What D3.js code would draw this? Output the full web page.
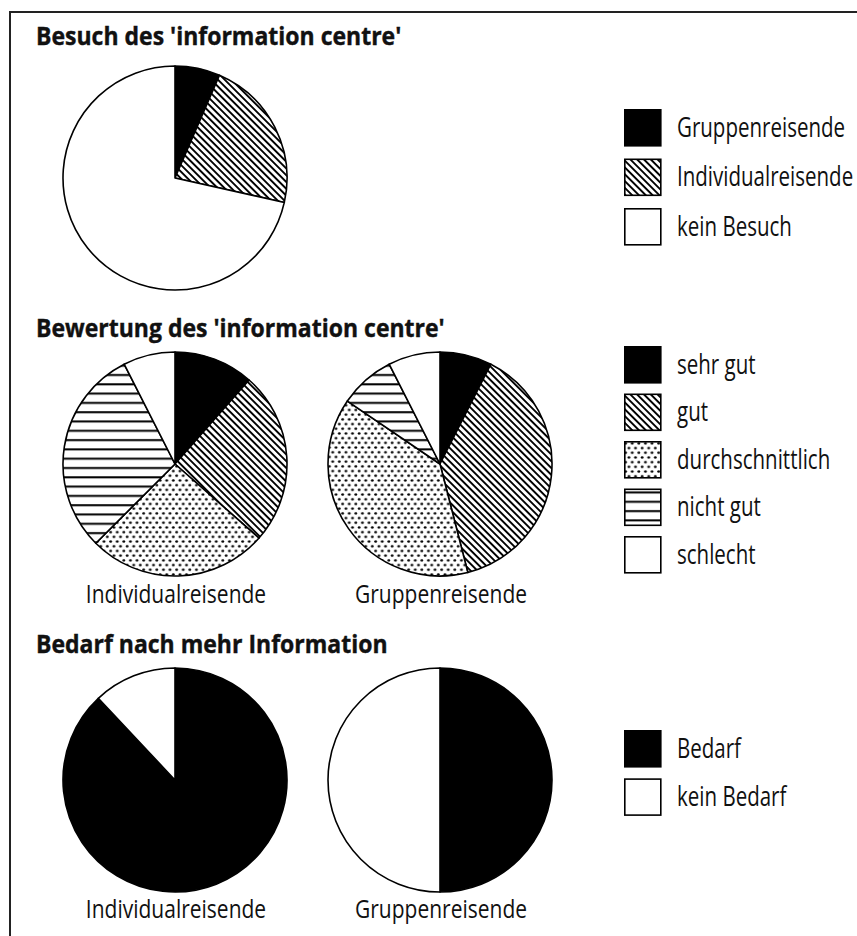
<!DOCTYPE html>
<html>
<head>
<meta charset="utf-8">
<script src="https://cdn.jsdelivr.net/npm/d3@7"></script>
<style>
    html, body { margin: 0; padding: 0; background: #fff; }
    svg { display: block; }
</style>
</head>
<body>
<div id="chart"></div>
<script>
// Werte (Prozent)
const besuchKategorien = ['Gruppenreisende', 'Individualreisende', 'kein Besuch'];
const besuchWerte = [6.5, 22, 71.5];

const bewertungKategorien = ['sehr gut', 'gut', 'durchschnittlich', 'nicht gut', 'schlecht'];
const bewertungIndividual = [11.5, 25, 26, 30, 7.5];
const bewertungGruppe = [7.5, 38.5, 38.5, 8, 7.5];

const bedarfKategorien = ['Bedarf', 'kein Bedarf'];
const bedarfIndividual = [88, 12];
const bedarfGruppe = [50, 50];

const reisendeLabels = ['Individualreisende', 'Gruppenreisende'];

const titel = [
    "Besuch des 'information centre'",
    "Bewertung des 'information centre'",
    "Bedarf nach mehr Information"
];

const width = 857;
const height = 936;
const radius = 112;
const FONT = "'Open Sans', 'Noto Sans', sans-serif";

const svg = d3.select('#chart')
    .append('svg')
    .attr('width', width)
    .attr('height', height);

// Schraffuren
const defs = svg.append('defs');

const diag = defs.append('pattern')
    .attr('id', 'diag')
    .attr('patternUnits', 'userSpaceOnUse')
    .attr('width', 10)
    .attr('height', 4.8)
    .attr('patternTransform', 'rotate(45)');
diag.append('rect').attr('width', 10).attr('height', 4.8).attr('fill', '#fff');
diag.append('rect').attr('y', 0).attr('width', 10).attr('height', 1.9).attr('fill', '#000');

const horiz = defs.append('pattern')
    .attr('id', 'horiz')
    .attr('patternUnits', 'userSpaceOnUse')
    .attr('width', 10)
    .attr('height', 9.3);
horiz.append('rect').attr('width', 10).attr('height', 9.3).attr('fill', '#fff');
horiz.append('rect').attr('y', 3).attr('width', 10).attr('height', 2).attr('fill', '#000');

const dots = defs.append('pattern')
    .attr('id', 'dots')
    .attr('patternUnits', 'userSpaceOnUse')
    .attr('width', 6.6)
    .attr('height', 9.4);
dots.append('rect').attr('width', 6.6).attr('height', 9.4).attr('fill', '#fff');
dots.append('ellipse').attr('cx', 1.65).attr('cy', 2.35).attr('rx', 1.45).attr('ry', 1.2).attr('fill', '#000');
dots.append('ellipse').attr('cx', 4.95).attr('cy', 7.05).attr('rx', 1.45).attr('ry', 1.2).attr('fill', '#000');

// Farbskalen
const besuchFill = d3.scaleOrdinal()
    .domain(besuchKategorien)
    .range(['#000', 'url(#diag)', '#fff']);
const bewertungFill = d3.scaleOrdinal()
    .domain(bewertungKategorien)
    .range(['#000', 'url(#diag)', 'url(#dots)', 'url(#horiz)', '#fff']);
const bedarfFill = d3.scaleOrdinal()
    .domain(bedarfKategorien)
    .range(['#000', '#fff']);

const pieX = d3.scalePoint().domain(reisendeLabels).range([175, 440]);
const sectionY = d3.scaleOrdinal().domain([0, 1, 2]).range([178, 464, 780]);

// Rahmen
svg.append('path')
    .attr('d', `M10,${height + 2} L10,12 L${width + 2},12`)
    .attr('fill', 'none')
    .attr('stroke', '#222')
    .attr('stroke-width', 2);

// Text mit schmaler Laufweite (Vorlage nutzt eine Condensed-Schrift)
function addText(parent, x, y, str, opts) {
    const o = Object.assign({ size: 26, weight: 'normal', anchor: 'start', squeeze: 0.78, stroke: 0 }, opts);
    const t = parent.append('text')
        .attr('transform', `translate(${x},${y}) scale(${o.squeeze},1)`)
        .attr('text-anchor', o.anchor)
        .attr('font-family', FONT)
        .attr('font-size', o.size)
        .attr('font-weight', o.weight)
        .attr('fill', '#111')
        .text(str);
    if (o.stroke) {
        t.attr('stroke', '#111').attr('stroke-width', o.stroke);
    }
    return t;
}

function drawPie(cx, cy, categories, values, fill) {
    const data = categories.map((c, i) => ({ key: c, value: values[i] }));
    const pie = d3.pie().sort(null).value(d => d.value);
    const arc = d3.arc().innerRadius(0).outerRadius(radius);
    const g = svg.append('g').attr('transform', `translate(${cx},${cy})`);
    g.selectAll('path')
        .data(pie(data))
        .enter()
        .append('path')
        .attr('d', arc)
        .attr('fill', d => fill(d.data.key))
        .attr('stroke', '#000')
        .attr('stroke-width', 1.6)
        .attr('stroke-linejoin', 'round');
    return g;
}

function drawLegend(top, step, categories, fill) {
    const g = svg.append('g').attr('transform', `translate(624,${top})`);
    const item = g.selectAll('g')
        .data(categories)
        .enter()
        .append('g')
        .attr('transform', (d, i) => `translate(0,${i * step})`);
    item.append('rect')
        .attr('x', 0.8)
        .attr('y', 0.8)
        .attr('width', 36)
        .attr('height', 36)
        .attr('fill', d => fill(d))
        .attr('stroke', '#000')
        .attr('stroke-width', 1.6);
    item.each(function(d) {
        addText(d3.select(this), 53, 27.5, d, { size: 27, squeeze: 0.76 });
    });
}

// Titel
[45, 337, 653].forEach((y, i) => {
    addText(svg, 36, y, titel[i], { size: 25, weight: 'bold', squeeze: 0.92, stroke: 0.4 });
});

// Abschnitt 1
drawPie(175, sectionY(0), besuchKategorien, besuchWerte, besuchFill);
drawLegend(109, 49.5, besuchKategorien, besuchFill);

// Abschnitt 2
drawPie(pieX('Individualreisende'), sectionY(1), bewertungKategorien, bewertungIndividual, bewertungFill);
drawPie(pieX('Gruppenreisende'), sectionY(1), bewertungKategorien, bewertungGruppe, bewertungFill);
drawLegend(346, 47.5, bewertungKategorien, bewertungFill);
reisendeLabels.forEach(l => {
    addText(svg, pieX(l) + 1, 603, l, { size: 25, anchor: 'middle', squeeze: 0.84 });
});

// Abschnitt 3
drawPie(pieX('Individualreisende'), sectionY(2), bedarfKategorien, bedarfIndividual, bedarfFill);
drawPie(pieX('Gruppenreisende'), sectionY(2), bedarfKategorien, bedarfGruppe, bedarfFill);
drawLegend(730, 48.3, bedarfKategorien, bedarfFill);
reisendeLabels.forEach(l => {
    addText(svg, pieX(l) + 1, 918, l, { size: 25, anchor: 'middle', squeeze: 0.84 });
});
</script>
</body>
</html>
